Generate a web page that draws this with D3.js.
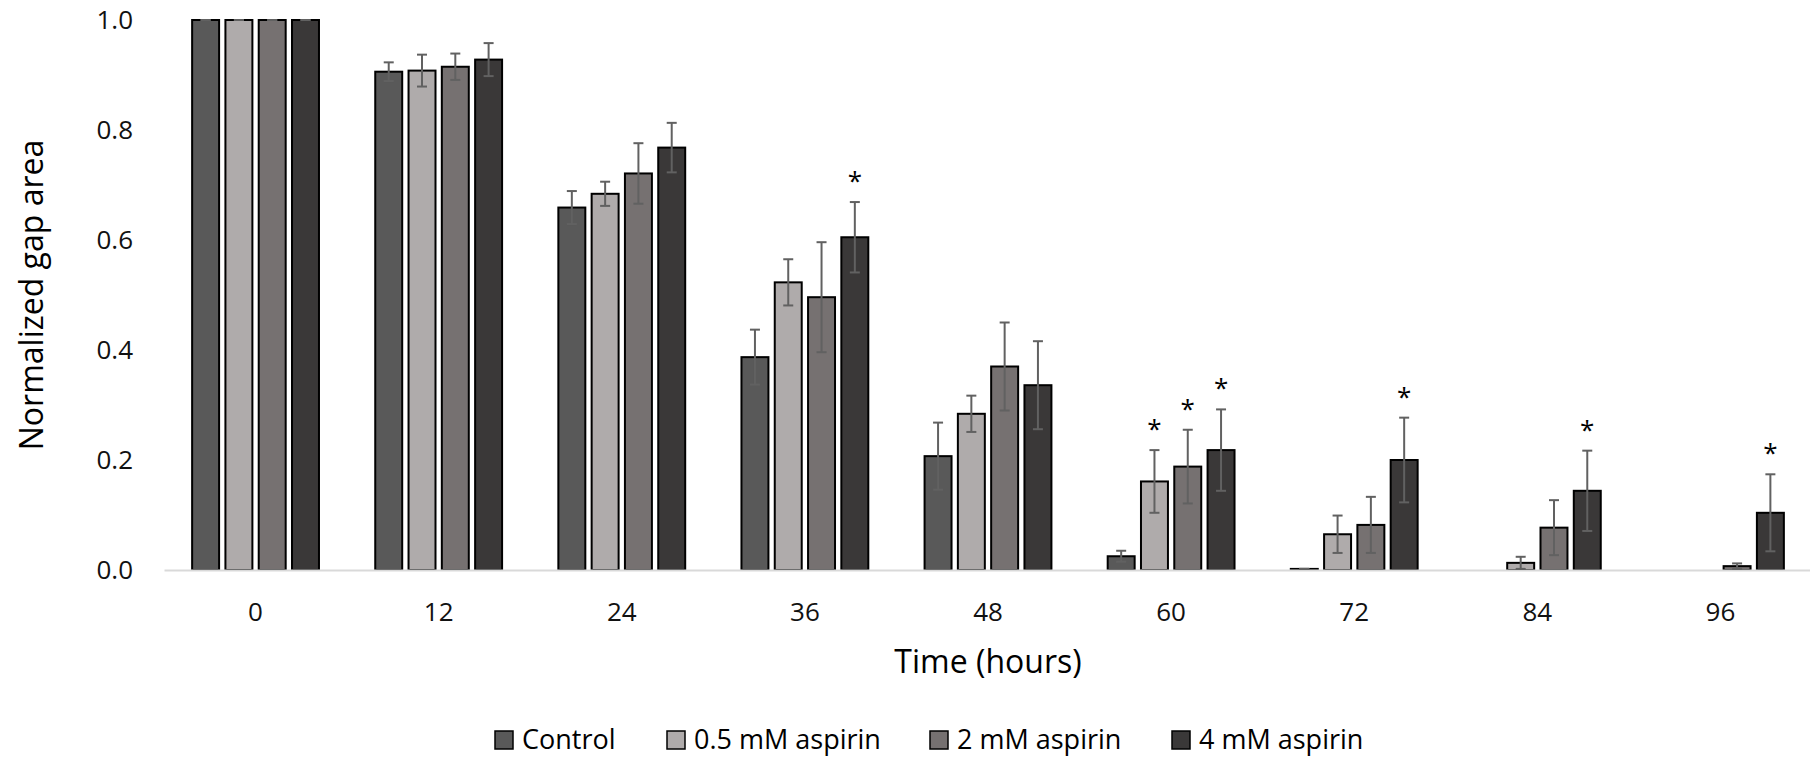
<!DOCTYPE html>
<html>
<head>
<meta charset="utf-8">
<script src="https://cdn.jsdelivr.net/npm/d3@7/dist/d3.min.js"></script>
<style>
  html, body { margin: 0; padding: 0; background: #fff; }
  svg { display: block; font-family: "Open Sans", sans-serif; }
</style>
</head>
<body>
<svg id="chart" width="1810" height="758"></svg>
<script>
// Time points (hours)
const categories = ["0", "12", "24", "36", "48", "60", "72", "84", "96"];
const seriesNames = ["Control", "0.5 mM aspirin", "2 mM aspirin", "4 mM aspirin"];

// Normalized gap area (mean) per treatment
const control   = [1.0, 0.906, 0.659, 0.387, 0.207, 0.025, 0.002, 0, 0];
const aspirin05 = [1.0, 0.908, 0.684, 0.523, 0.284, 0.161, 0.065, 0.013, 0];
const aspirin2  = [1.0, 0.915, 0.721, 0.496, 0.370, 0.188, 0.082, 0.077, 0.007];
const aspirin4  = [1.0, 0.928, 0.768, 0.605, 0.336, 0.218, 0.200, 0.144, 0.104];

// Error (± deviation) per treatment
const controlErr   = [0, 0.017, 0.030, 0.050, 0.061, 0.010, 0, 0, 0];
const aspirin05Err = [0, 0.029, 0.022, 0.042, 0.033, 0.057, 0.034, 0.011, 0];
const aspirin2Err  = [0, 0.024, 0.055, 0.100, 0.080, 0.067, 0.051, 0.050, 0.005];
const aspirin4Err  = [0, 0.030, 0.045, 0.064, 0.080, 0.074, 0.077, 0.073, 0.070];

// Significance markers (true = asterisk above the bar)
const controlSig   = [false, false, false, false, false, false, false, false, false];
const aspirin05Sig = [false, false, false, false, false, true,  false, false, false];
const aspirin2Sig  = [false, false, false, false, false, true,  false, false, false];
const aspirin4Sig  = [false, false, false, true,  false, true,  true,  true,  true];

const yTicks = [0, 0.2, 0.4, 0.6, 0.8, 1.0];

const seriesValues = [control, aspirin05, aspirin2, aspirin4];
const seriesErrors = [controlErr, aspirin05Err, aspirin2Err, aspirin4Err];
const seriesSig    = [controlSig, aspirin05Sig, aspirin2Sig, aspirin4Sig];
const colors = ["#595959", "#AFABAB", "#767171", "#3A3838"];

const rows = [];
categories.forEach((c, i) => {
  seriesNames.forEach((s, j) => {
    rows.push({ cat: c, series: s, idx: j,
      value: seriesValues[j][i], err: seriesErrors[j][i], sig: seriesSig[j][i] });
  });
});

const svg = d3.select("#chart");
const plot = { left: 164, right: 1812, top: 20, bottom: 570 };

const x0 = d3.scaleBand().domain(categories).range([plot.left, plot.right]).padding(0);
const x1 = d3.scaleBand().domain(seriesNames).range([0, x0.bandwidth()])
  .paddingInner(0.19).paddingOuter(0.845);
const y = d3.scaleLinear().domain([0, 1]).range([plot.bottom, plot.top]);
const color = d3.scaleOrdinal().domain(seriesNames).range(colors);

// Y axis labels (no line, no ticks)
const yAxis = svg.append("g")
  .attr("transform", `translate(${plot.left},0)`)
  .call(d3.axisLeft(y).tickValues(yTicks).tickFormat(d3.format(".1f")).tickSize(0).tickPadding(31));
yAxis.select(".domain").remove();
yAxis.selectAll("text").attr("font-size", 26).attr("fill", "#111")
  .style("font-family", "'Open Sans', sans-serif");

// Bars
const bars = svg.append("g");
bars.selectAll("rect").data(rows).join("rect")
  .attr("x", d => x0(d.cat) + x1(d.series))
  .attr("y", d => y(d.value))
  .attr("width", x1.bandwidth())
  .attr("height", d => y(0) - y(d.value))
  .attr("fill", d => color(d.series))
  .attr("stroke", "#000")
  .attr("stroke-width", 2)
  .attr("stroke-opacity", d => d.value === 0 ? 0.15 : 1);

// X axis baseline and labels
const xAxis = svg.append("g")
  .attr("transform", `translate(0,${plot.bottom})`)
  .call(d3.axisBottom(x0).tickSize(0).tickPadding(33));
xAxis.select(".domain").attr("stroke", "#D9D9D9").attr("stroke-width", 2);
xAxis.selectAll("text").attr("font-size", 26).attr("fill", "#111")
  .style("font-family", "'Open Sans', sans-serif");

// Error bars
const capHalf = 5;
const eb = svg.append("g").attr("stroke", "#616161").attr("stroke-width", 2).attr("fill", "none");
rows.filter(d => d.value > 0).forEach(d => {
  const cx = x0(d.cat) + x1(d.series) + x1.bandwidth() / 2;
  const yHi = y(d.value + d.err), yLo = y(d.value - d.err);
  eb.append("line").attr("x1", cx).attr("x2", cx).attr("y1", yHi).attr("y2", yLo);
  eb.append("line").attr("x1", cx - capHalf).attr("x2", cx + capHalf).attr("y1", yHi).attr("y2", yHi);
  eb.append("line").attr("x1", cx - capHalf).attr("x2", cx + capHalf).attr("y1", yLo).attr("y2", yLo);
});

// Significance asterisks
svg.append("g").selectAll("text").data(rows.filter(d => d.sig)).join("text")
  .attr("x", d => x0(d.cat) + x1(d.series) + x1.bandwidth() / 2)
  .attr("y", d => y(d.value + d.err) - 12)
  .attr("text-anchor", "middle")
  .attr("font-size", 26)
  .attr("fill", "#000")
  .text("*");

// Axis titles
svg.append("text")
  .attr("x", (plot.left + plot.right) / 2)
  .attr("y", 673)
  .attr("text-anchor", "middle")
  .attr("font-size", 32)
  .attr("fill", "#000")
  .text("Time (hours)");

svg.append("text")
  .attr("transform", `translate(43,${(plot.top + plot.bottom) / 2}) rotate(-90)`)
  .attr("text-anchor", "middle")
  .attr("font-size", 32)
  .attr("fill", "#000")
  .text("Normalized gap area");

// Legend: swatch left edges along the bottom row
const legendX = [495, 667, 930, 1172];
seriesNames.forEach((s, j) => {
  const g = svg.append("g").attr("transform", `translate(${legendX[j]},0)`);
  g.append("rect").attr("x", 0).attr("y", 731).attr("width", 18).attr("height", 18)
    .attr("fill", color(s)).attr("stroke", "#000").attr("stroke-width", 1.5);
  g.append("text").attr("x", 27).attr("y", 749)
    .attr("font-size", 27).attr("fill", "#000").text(s);
});
</script>
</body>
</html>
